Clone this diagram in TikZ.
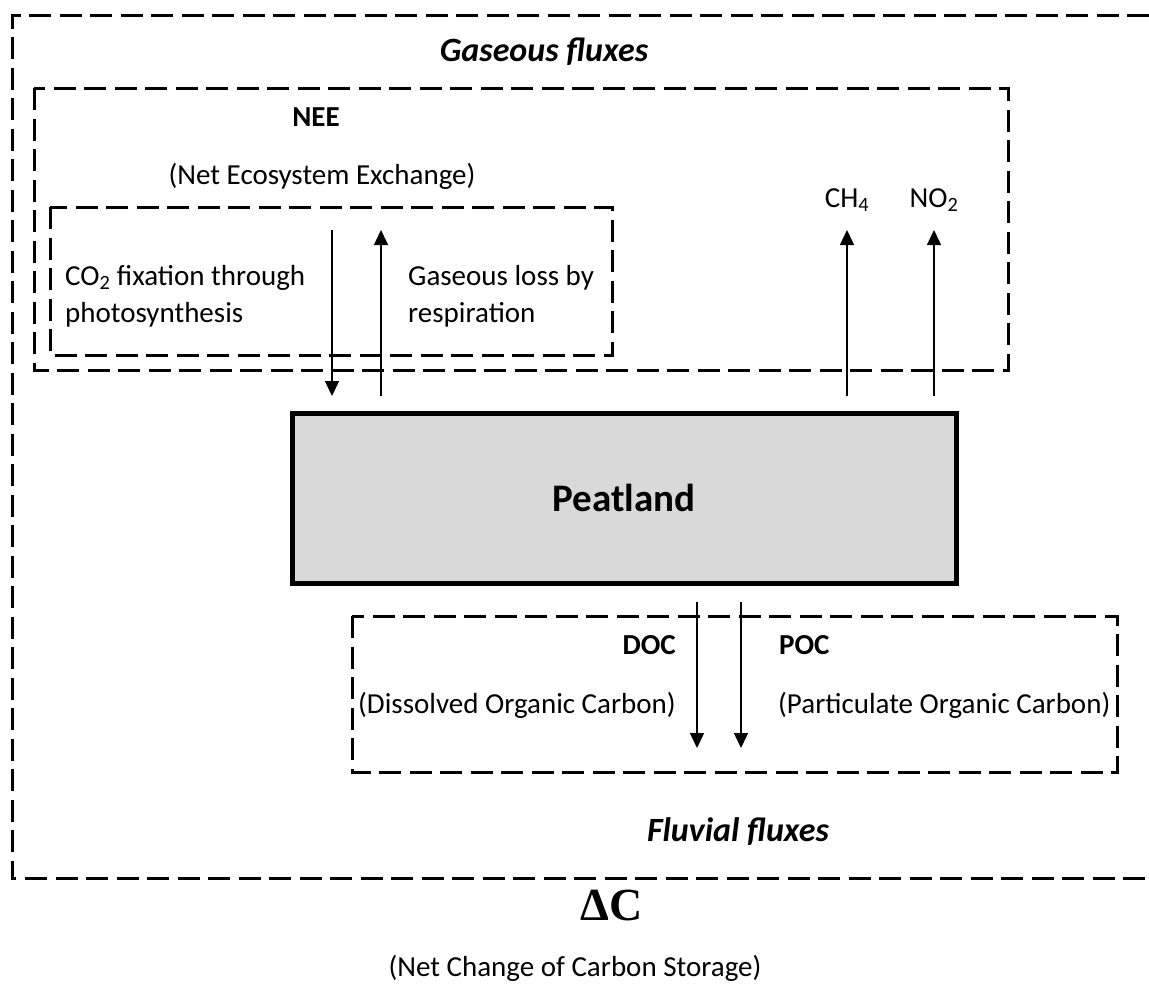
\documentclass[tikz,border=0pt]{standalone}
\usepackage{fontspec}
\setmainfont{Carlito}
\newfontfamily\deltafont{Liberation Serif}
\usetikzlibrary{arrows.meta}
\begin{document}
\begin{tikzpicture}[x=1pt,y=-1pt,
  dbox/.style={draw, dash pattern=on 22pt off 8.5pt, line width=3pt},
  arr/.style={-{Triangle[width=14pt,length=15pt]}, line width=1.4pt},
  txt/.style={font=\fontsize{29}{37}\selectfont, inner sep=0pt},
  head/.style={font=\fontsize{34}{40}\selectfont\bfseries\itshape, inner sep=0pt},
  lbl/.style={font=\fontsize{29}{34}\selectfont\bfseries, inner sep=0pt}
]
\useasboundingbox (0,0) rectangle (1149,1002);
% outer box (open at right)
\draw[dbox] (1149,15) -- (12,15) -- (12,878) -- (1149,878);
% NEE box
\draw[dbox] (34,88) rectangle (1008,370);
% inner NEE box
\draw[dbox] (50,207) rectangle (612,355);
% fluvial box
\draw[dbox] (352,616) rectangle (1117,772);
% Peatland
\node[draw, line width=5pt, fill=gray!30, minimum width=664pt, minimum height=170pt,
      font=\fontsize{39}{44}\selectfont\bfseries] (peat) at (624,498) {Peatland};

\node[head] (gas) at (544,52) {Gaseous fluxes};
\node[lbl] (nee) at (316,117) {NEE};
\node[txt] (neet) at (322,176) {(Net Ecosystem Exchange)};
\node[txt, anchor=west, align=left] (fix) at (65,296) {CO\textsubscript{2} fixation through\\photosynthesis};
\node[txt, anchor=west, align=left] (resp) at (408,296) {Gaseous loss by\\respiration};
\node[txt] (ch4) at (847,200) {CH\textsubscript{4}};
\node[txt] (no2) at (934,200) {NO\textsubscript{2}};
\node[lbl, anchor=east] (doc) at (676,645) {DOC};
\node[lbl, anchor=west] (poc) at (779,645) {POC};
\node[txt, anchor=east] (doct) at (676,705) {(Dissolved Organic Carbon)};
\node[txt, anchor=west] (poct) at (778,705) {(Particulate Organic Carbon)};
\node[head] (fluv) at (738,832) {Fluvial fluxes};
\node[inner sep=0pt, font=\fontsize{46}{50}\selectfont\deltafont\bfseries] (dc) at (612,905) {ΔC};
\node[txt] (dct) at (575,968) {(Net Change of Carbon Storage)};

% arrow end points
\coordinate (a1s) at (332,230); \coordinate (a1e) at (332,396);
\coordinate (a2s) at (381,396); \coordinate (a2e) at (381,230);
\coordinate (a3s) at (847,396); \coordinate (a3e) at (847,230);
\coordinate (a4s) at (934,396); \coordinate (a4e) at (934,230);
\coordinate (a5s) at (697,602); \coordinate (a5e) at (697,748);
\coordinate (a6s) at (741,602); \coordinate (a6e) at (741,748);
\draw[arr] (a1s) -- (a1e);
\draw[arr] (a2s) -- (a2e);
\draw[arr] (a3s) -- (a3e);
\draw[arr] (a4s) -- (a4e);
\draw[arr] (a5s) -- (a5e);
\draw[arr] (a6s) -- (a6e);
\end{tikzpicture}
\end{document}
